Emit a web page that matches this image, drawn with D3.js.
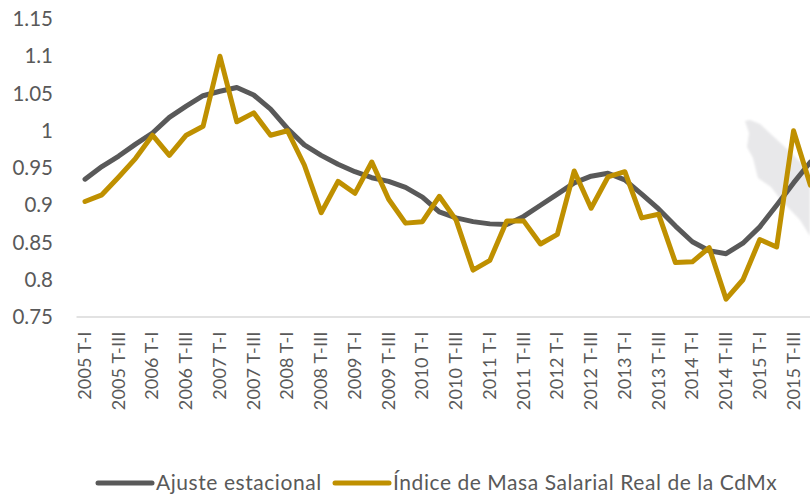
<!DOCTYPE html>
<html><head><meta charset="utf-8">
<script src="https://cdn.jsdelivr.net/npm/d3@7/dist/d3.min.js"></script>
<style>html,body{margin:0;padding:0;background:#fff;overflow:hidden}svg{display:block}</style>
</head><body><div id="chart"></div>
<script>
const categories = [
"2005 T-I","2005 T-II","2005 T-III","2005 T-IV","2006 T-I","2006 T-II","2006 T-III","2006 T-IV",
"2007 T-I","2007 T-II","2007 T-III","2007 T-IV","2008 T-I","2008 T-II","2008 T-III","2008 T-IV",
"2009 T-I","2009 T-II","2009 T-III","2009 T-IV","2010 T-I","2010 T-II","2010 T-III","2010 T-IV",
"2011 T-I","2011 T-II","2011 T-III","2011 T-IV","2012 T-I","2012 T-II","2012 T-III","2012 T-IV",
"2013 T-I","2013 T-II","2013 T-III","2013 T-IV","2014 T-I","2014 T-II","2014 T-III","2014 T-IV",
"2015 T-I","2015 T-II","2015 T-III","2015 T-IV"];
const tickLabels = categories.filter((d, i) => i % 2 === 0);
const ajuste = [
0.935,0.952,0.966,0.982,0.997,1.018,1.033,1.047,1.053,1.058,1.048,1.029,1.003,0.981,0.967,0.955,
0.945,0.937,0.932,0.924,0.911,0.891,0.883,0.878,0.875,0.874,0.885,0.900,0.915,0.930,0.939,0.943,
0.934,0.915,0.895,0.872,0.851,0.839,0.835,0.849,0.871,0.900,0.930,0.958];
const indice = [
0.905,0.914,0.938,0.963,0.994,0.967,0.994,1.006,1.100,1.012,1.024,0.994,1.000,0.954,0.890,0.932,
0.916,0.958,0.908,0.876,0.878,0.912,0.880,0.813,0.826,0.879,0.879,0.848,0.861,0.946,0.896,0.938,
0.945,0.883,0.888,0.823,0.824,0.843,0.774,0.800,0.854,0.844,1.000,0.927];
const yTicks = [0.75,0.8,0.85,0.9,0.95,1,1.05,1.1,1.15];
const seriesNames = ["Ajuste estacional","Índice de Masa Salarial Real de la CdMx"];
const seriesColors = ["#595959","#bf9000"];

const W = 810, H = 495, font = "Lato, Carlito, sans-serif", textColor = "#595959";
const svg = d3.select("#chart").append("svg").attr("width", W).attr("height", H);

// faint watermark behind the plot
svg.append("defs").append("filter").attr("id","soft").append("feGaussianBlur").attr("stdDeviation",1);
svg.append("path")
  .attr("d","M745,121 L750,120 L760,124 L788,150 L810,172 L810,236 L800,220 L781,200 L771,187 L758,178 L753,158 L747,147 L749,133 Z")
  .attr("fill","#e8e8ea").attr("filter","url(#soft)");

const x = d3.scaleBand().domain(categories).range([76.57, 76.57 + 16.87 * categories.length]);
const y = d3.scaleLinear().domain([0.75, 1.15]).range([317, 19]);

const gx = svg.append("g").attr("transform","translate(0,317)")
  .call(d3.axisBottom(x).tickValues(tickLabels).tickSize(0).tickPadding(0));
gx.select(".domain").attr("stroke","#d9d9d9").attr("stroke-width",1.5)
  .attr("d","M76.5,0H810");
gx.selectAll("text")
  .attr("font-family",font).attr("font-size",18).attr("letter-spacing",0.15).attr("fill",textColor)
  .attr("text-anchor","end").attr("dy",null)
  .attr("transform", function(){ return "translate(6,14.5) rotate(-90)"; })
  .attr("x",0).attr("y",0);

const gy = svg.append("g").attr("transform","translate(53,0)")
  .call(d3.axisLeft(y).tickValues(yTicks).tickFormat(d => String(+d.toFixed(2))).tickSize(0).tickPadding(0));
gy.select(".domain").remove();
gy.selectAll("text").attr("font-family",font).attr("font-size",20.5).attr("fill",textColor);

const line = d3.line()
  .x((d, i) => x(categories[i]) + x.bandwidth() / 2)
  .y(d => y(d));
[ajuste, indice].forEach((s, k) => {
  svg.append("path").attr("d", line(s)).attr("fill","none")
    .attr("stroke", seriesColors[k]).attr("stroke-width",5)
    .attr("stroke-linejoin","round").attr("stroke-linecap","round");
});

// legend
const lx = [98, 335], ly = 483;
seriesNames.forEach((n, k) => {
  svg.append("line").attr("x1",lx[k]).attr("x2",lx[k]+54).attr("y1",ly).attr("y2",ly)
    .attr("stroke",seriesColors[k]).attr("stroke-width",5).attr("stroke-linecap","round");
  svg.append("text").attr("x",lx[k]+58).attr("y",ly+7).text(n)
    .attr("font-family",font).attr("font-size",21).attr("letter-spacing",0.56).attr("fill",textColor);
});
</script></body></html>
